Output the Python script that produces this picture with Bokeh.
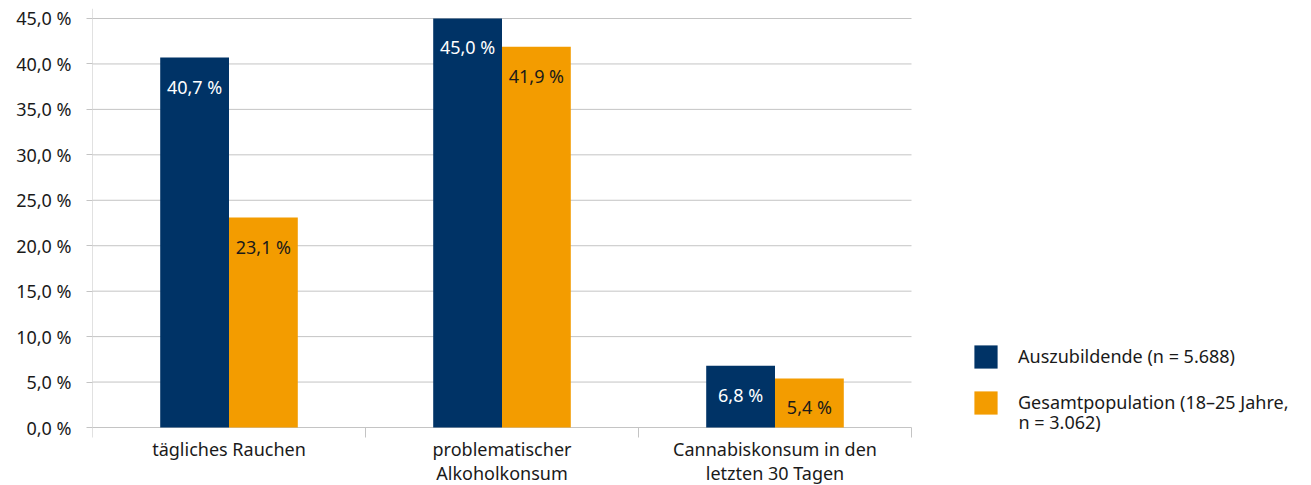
from bokeh.plotting import figure
from bokeh.models import Range1d, FixedTicker, Legend, LegendItem, Label
from bokeh.core.properties import value
from bokeh.embed import file_html
from bokeh.resources import INLINE
import numpy as np

categories = ["tägliches Rauchen", "problematischer\nAlkoholkonsum", "Cannabiskonsum in den\nletzten 30 Tagen"]
azubi = [40.7, 45.0, 6.8]
gesamt = [23.1, 41.9, 5.4]
series_names = ["Auszubildende (n = 5.688)", "Gesamtpopulation (18\u201325 Jahre,\nn = 3.062)"]
y_ticks = [0, 5, 10, 15, 20, 25, 30, 35, 40, 45]

NAVY = "#003366"
ORANGE = "#f39c00"
GRID = "#c4c4c4"
TXT = "#1a1a1a"
FONT = "Noto Sans"
FS = "18px"

def fmt(v):
    return f"{v:.1f}".replace(".", ",") + " %"

W, H = 1311, 485
LEFT, TOP = 92, 8
px_x = 273.0
px_y = 9.0889
frame_w = W - LEFT
x_end = frame_w / px_x
y_end = 45 + 10 / px_y
y_start = -((H - 427) / px_y)

p = figure(width=W, height=H, output_backend="svg", toolbar_location=None,
           x_range=Range1d(0, x_end), y_range=Range1d(y_start, y_end),
           min_border_left=LEFT, min_border_right=0, min_border_top=TOP, min_border_bottom=0)
p.outline_line_color = None
p.xgrid.visible = False
p.ygrid.visible = False
p.xaxis.visible = False

ya = p.yaxis[0]
ya.ticker = FixedTicker(ticks=y_ticks)
ya.major_label_overrides = {t: fmt(t) for t in y_ticks}
ya.axis_line_color = None
ya.major_tick_in = 0
ya.major_tick_out = 6
ya.major_tick_line_color = GRID
ya.minor_tick_line_color = None
ya.major_label_standoff = 15
ya.major_label_text_font = FONT
ya.major_label_text_font_size = FS
ya.major_label_text_color = TXT

n = len(categories)
xc = np.arange(n)
w = 0.252
off = 0.126
tick_drop = 10 / px_y

# gridlines
p.segment(x0=[0] * len(y_ticks), x1=[n] * len(y_ticks), y0=y_ticks, y1=y_ticks,
          line_color=GRID, line_width=1)
# y axis line
p.segment(x0=[0], x1=[0], y0=[-tick_drop], y1=[y_end], line_color=GRID, line_width=1)
# category boundary ticks
p.segment(x0=list(range(1, n + 1)), x1=list(range(1, n + 1)), y0=[0] * n, y1=[-tick_drop] * n,
          line_color=GRID, line_width=1)

r1 = p.vbar(x=xc + 0.5 - off, top=azubi, width=w, bottom=0, fill_color=NAVY, line_color=None)
r2 = p.vbar(x=xc + 0.5 + off, top=gesamt, width=w, bottom=0, fill_color=ORANGE, line_color=None)

p.text(x=xc + 0.5 - off, y=azubi, text=[fmt(v) for v in azubi], y_offset=29,
       text_align="center", text_baseline="middle", text_color="white",
       text_font=value(FONT), text_font_size=FS)
p.text(x=xc + 0.5 + off, y=gesamt, text=[fmt(v) for v in gesamt], y_offset=29,
       text_align="center", text_baseline="middle", text_color=TXT,
       text_font=value(FONT), text_font_size=FS)

# category labels
p.text(x=xc + 0.5, y=[0] * n, text=categories, y_offset=9,
       text_align="center", text_baseline="top", text_color=TXT,
       text_font=value(FONT), text_font_size=FS, text_line_height=1.0)

name2_lines = series_names[1].split("\n")
legend = Legend(items=[LegendItem(label=series_names[0], renderers=[r1]),
                       LegendItem(label=name2_lines[0], renderers=[r2])],
                location=(879, H - 416.5), glyph_width=29, glyph_height=29,
                label_standoff=18, spacing=17, padding=0, margin=0, border_line_color=None,
                background_fill_alpha=0, label_text_font=FONT, label_text_font_size=FS,
                label_text_color=TXT)
p.add_layout(legend)

p.add_layout(Label(x=1018 - LEFT, y=H - 421, x_units="screen", y_units="screen",
                   text=name2_lines[1], text_baseline="middle", text_align="left",
                   text_font=FONT, text_font_size=FS, text_color=TXT))

open("out.html", "w").write(file_html(p, INLINE))
